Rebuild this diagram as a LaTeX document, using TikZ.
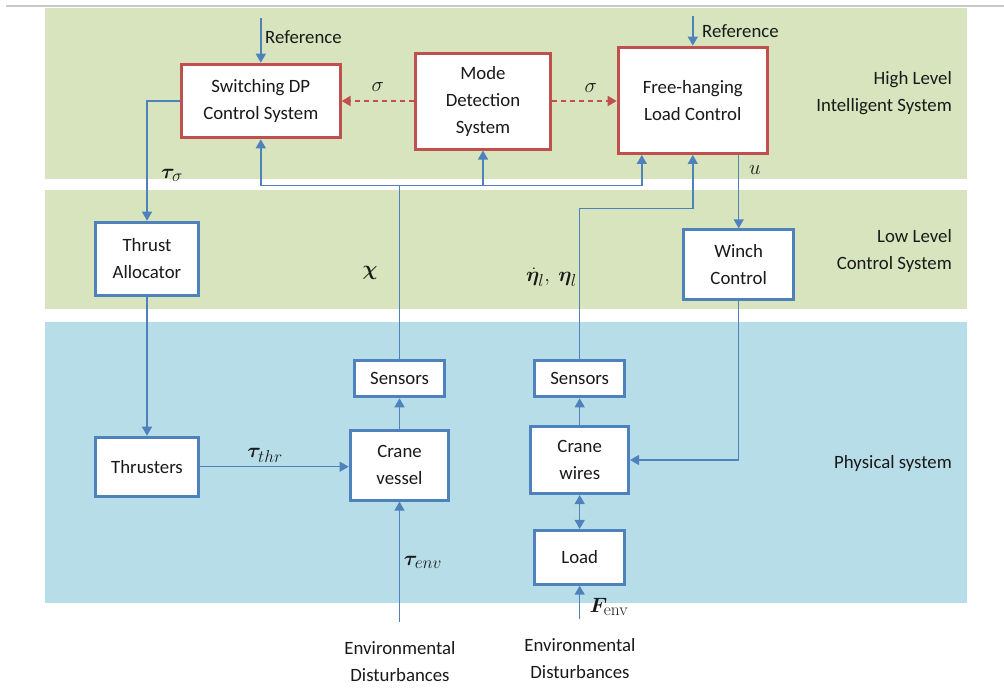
\documentclass[tikz,border=0pt]{standalone}
\usepackage{amsmath}
\usepackage{bm}
\usepackage[no-math]{fontspec}
\setmainfont{Carlito}
\usetikzlibrary{arrows.meta}
% larger sub/superscripts for the signal labels
\DeclareMathSizes{22}{22}{16.5}{12}

\definecolor{bandgreen}{HTML}{D7E4BD}
\definecolor{bandblue}{HTML}{B7DEE8}
\definecolor{boxblue}{HTML}{4F81BD}
\definecolor{boxred}{HTML}{C0504D}
\definecolor{rulegray}{HTML}{C8C8C8}

\tikzset{
  txt/.style={font=\fontsize{18.8}{27}\selectfont, text=black!90, align=center, inner sep=0pt},
  redbox/.style={txt, draw=boxred, fill=white, line width=3pt},
  bluebox/.style={txt, draw=boxblue, fill=white, line width=3pt},
  conn/.style={draw=boxblue, line width=1.4pt, -{Triangle[width=10pt,length=9pt]}},
  plainconn/.style={draw=boxblue, line width=1.4pt},
  dashconn/.style={draw=boxred, line width=2pt, dash pattern=on 5pt off 4pt,
    -{Triangle[width=10pt,length=9pt]}},
  lbl/.style={txt},
  mlbl/.style={font=\fontsize{22}{26}\selectfont, text=black!90, inner sep=0pt},
}

\begin{document}
\begin{tikzpicture}[x=1pt,y=-1pt]
\useasboundingbox (0,0) rectangle (1004,696);

% layer bands
\fill[bandgreen] (45,7.5) rectangle (967,179);
\fill[bandgreen] (45,190) rectangle (967,309);
\fill[bandblue] (45,321.7) rectangle (967,603);
\draw[rulegray, line width=1.2pt] (6,6) -- (1004,6);

% layer titles
\node[lbl, align=right, anchor=east] (lhigh) at (952,93.5) {High Level\\Intelligent System};
\node[lbl, align=right, anchor=east] (llow) at (952,251) {Low Level\\Control System};
\node[lbl, anchor=east] (lphys) at (952,463.3) {Physical system};

% high level blocks
\node[redbox, minimum width=158.7pt, minimum height=73.6pt] (sw) at (260.8,101) {Switching DP\\Control System};
\node[redbox, minimum width=135pt, minimum height=96pt] (md) at (483,101) {Mode\\Detection\\System};
\node[redbox, minimum width=149.3pt, minimum height=106.3pt] (fh) at (692.8,100.3) {Free-hanging\\Load Control};

% low level blocks
\node[bluebox, minimum width=103pt, minimum height=73pt] (ta) at (147,258.7) {Thrust\\Allocator};
\node[bluebox, minimum width=109.7pt, minimum height=69.4pt] (wc) at (738.7,264.5) {Winch\\Control};

% physical blocks
\node[bluebox, minimum width=103pt, minimum height=59pt] (th) at (147,466.7) {Thrusters};
\node[bluebox, minimum width=98.7pt, minimum height=69.7pt] (cv) at (399.5,465.3) {Crane\\vessel};
\node[bluebox, minimum width=90.7pt, minimum height=36pt] (s1) at (399.5,378.8) {Sensors};
\node[bluebox, minimum width=90.4pt, minimum height=36pt] (s2) at (579.7,378.8) {Sensors};
\node[bluebox, minimum width=97.7pt, minimum height=67pt] (cw) at (579.7,460) {Crane\\wires};
\node[bluebox, minimum width=89.7pt, minimum height=53.7pt] (ld) at (579.7,557.3) {Load};

% disturbance sources
\node[lbl] (ed1) at (400,661.7) {Environmental\\Disturbances};
\node[lbl] (ed2) at (580,658.7) {Environmental\\Disturbances};

% free ends and bus levels
\coordinate (r1) at (260.8,18);
\coordinate (r2) at (692.8,16);
\coordinate (bus) at (0,185.7);
\coordinate (bus2) at (0,208.3);
\coordinate (d1) at (399.5,622);
\coordinate (d2) at (579.7,619.3);

% references
\draw[conn] (r1) -- (sw.north);
\node[lbl, anchor=west] (ref1) at (265,37) {Reference};
\draw[conn] (r2) -- (fh.north);
\node[lbl, anchor=west] (ref2) at (702,31) {Reference};

% mode switching signals
\draw[dashconn] (md.west) -- (md.west -| sw.east);
\draw[dashconn] (md.east) -- (md.east -| fh.west);
\node[mlbl] (sig1) at (377.7,87) {$\sigma$};
\node[mlbl] (sig2) at (590.7,88) {$\sigma$};

% vessel loop
\draw[conn] (sw.west) -| (ta.north);
\node[mlbl] (tsig) at (172,175) {$\bm{\tau}_{\sigma}$};
\draw[conn] (ta.south) -- (th.north);
\draw[conn] (th.east) -- (th.east -| cv.west);
\node[mlbl] (tthr) at (265,455) {$\bm{\tau}_{thr}$};
\draw[conn] (d1) -- (cv.south);
\node[mlbl] (tenv) at (423,562) {$\bm{\tau}_{env}$};
\draw[conn] (cv.north) -- (s1.south);
\draw[plainconn] (s1.north) -- (s1.north |- bus);
\draw[conn] (s1.north |- bus) -| (sw.south);
\draw[conn] (s1.north |- bus) -| ([xshift=-51pt]fh.south);
\draw[conn] (md.south |- bus) -- (md.south);
\node[mlbl] (chi) at (370,273) {$\bm{\chi}$};

% load loop
\draw[conn] (s2.north) -- (s2.north |- bus2) -| (fh.south);
\node[mlbl, anchor=east] (eta) at (577,277) {$\dot{\bm{\eta}}_l,\ \bm{\eta}_l$};
\draw[conn] (fh.south -| wc.north) -- (wc.north);
\node[mlbl] (uu) at (755,170) {$u$};
\draw[conn] (wc.south) |- (cw.east);
\draw[conn] (cw.north) -- (s2.south);
\draw[conn, {Triangle[width=10pt,length=9pt]}-{Triangle[width=10pt,length=9pt]}] (ld.north) -- (cw.south);
\draw[conn] (d2) -- (ld.south);
\node[mlbl] (fenv) at (609,607) {$\bm{F}_{\mathrm{env}}$};

\end{tikzpicture}
\end{document}
